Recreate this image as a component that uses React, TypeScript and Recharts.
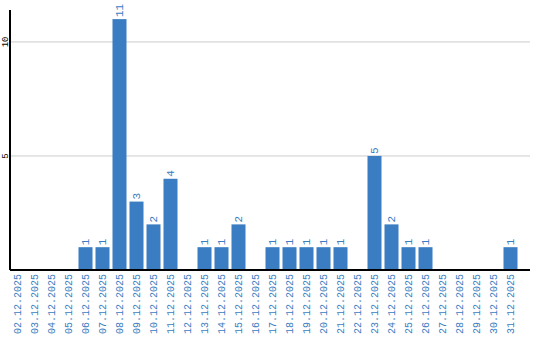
import { Bar, BarChart, CartesianGrid, LabelList, XAxis, YAxis } from 'recharts'

const days = [
  '02.12.2025', '03.12.2025', '04.12.2025', '05.12.2025', '06.12.2025', '07.12.2025',
  '08.12.2025', '09.12.2025', '10.12.2025', '11.12.2025', '12.12.2025', '13.12.2025',
  '14.12.2025', '15.12.2025', '16.12.2025', '17.12.2025', '18.12.2025', '19.12.2025',
  '20.12.2025', '21.12.2025', '22.12.2025', '23.12.2025', '24.12.2025', '25.12.2025',
  '26.12.2025', '27.12.2025', '28.12.2025', '29.12.2025', '30.12.2025', '31.12.2025',
]
const counts = [0, 0, 0, 0, 1, 1, 11, 3, 2, 4, 0, 1, 1, 2, 0, 1, 1, 1, 1, 1, 0, 5, 2, 1, 1, 0, 0, 0, 0, 1]
const yTicks = [5, 10]

const BLUE = '#3a7dc2'
const MONO = '"Liberation Mono", "DejaVu Sans Mono", monospace'
// bars sit at the left of their slot in the original, not centred
const NUDGE = -1.5

const data = days.map((d, i) => ({ day: d, count: counts[i] }))

// x tick: date read bottom-to-top, hanging under the axis
function DayTick({ x, y, payload }: any) {
  const tx = x + NUDGE
  return (
    <text
      x={tx}
      y={y}
      transform={`rotate(-90 ${tx} ${y})`}
      textAnchor="end"
      dy="0.35em"
      fill={BLUE}
      fontSize={10}
      fontFamily={MONO}
    >
      {payload.value}
    </text>
  )
}

function CountTick({ x, y, payload }: any) {
  return (
    <text
      x={x}
      y={y}
      transform={`rotate(-90 ${x} ${y})`}
      textAnchor="middle"
      dy="0.35em"
      fill="#000"
      fontSize={9}
      fontFamily={MONO}
    >
      {payload.value}
    </text>
  )
}

function ValueLabel({ x, y, width, value }: any) {
  if (!value) return null
  const cx = x + width / 2 + NUDGE
  const ty = y - 2
  return (
    <text
      x={cx}
      y={ty}
      transform={`rotate(-90 ${cx} ${ty})`}
      textAnchor="start"
      dy="0.35em"
      fill={BLUE}
      fontSize={11}
      fontFamily={MONO}
    >
      {value}
    </text>
  )
}

function BarRect({ x, y, width, height }: any) {
  if (!height) return null
  return <rect x={x + NUDGE} y={y} width={width} height={height} fill={BLUE} />
}

export default function App() {
  return (
    <div style={{ position: 'absolute', left: 0, top: 0, width: 540, height: 340, background: '#fff' }}>
      <BarChart
        width={540}
        height={340}
        data={data}
        margin={{ top: 10, right: 10, bottom: 0, left: 0 }}
        barSize={14}
      >
        <CartesianGrid vertical={false} horizontalValues={yTicks} stroke="#cccccc" strokeWidth={1} />
        <XAxis
          dataKey="day"
          interval={0}
          height={70}
          tickLine={false}
          tickSize={0}
          tickMargin={4}
          axisLine={{ stroke: '#000', strokeWidth: 2 }}
          padding={{ left: 0, right: 10 }}
          tick={<DayTick />}
        />
        <YAxis
          width={10}
          domain={[0, 11.4]}
          ticks={yTicks}
          tickLine={false}
          tickSize={0}
          axisLine={{ stroke: '#000', strokeWidth: 2 }}
          tick={<CountTick />}
          tickMargin={5}
        />
        <Bar dataKey="count" fill={BLUE} shape={<BarRect />} isAnimationActive={false}>
          <LabelList dataKey="count" content={<ValueLabel />} />
        </Bar>
      </BarChart>
    </div>
  )
}
